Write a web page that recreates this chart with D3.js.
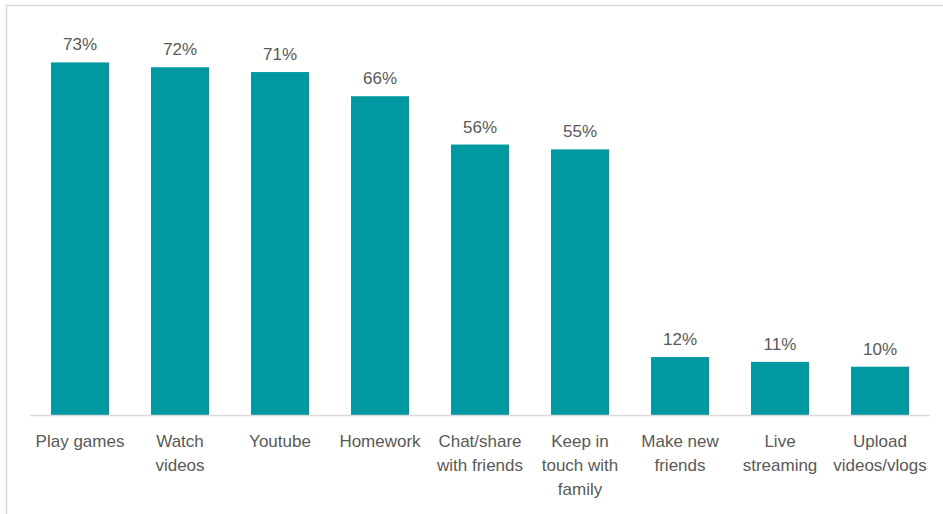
<!DOCTYPE html>
<html>
<head>
<meta charset="utf-8">
<script src="https://cdn.jsdelivr.net/npm/d3@7/dist/d3.min.js"></script>
<style>
  html, body { margin: 0; padding: 0; background: #fff; }
  svg { display: block; }
</style>
</head>
<body>
<svg id="chart" width="943" height="514"></svg>
<script>
// Activities and the share of respondents doing each one
const categories = [
  "Play games", "Watch videos", "Youtube", "Homework", "Chat/share with friends",
  "Keep in touch with family", "Make new friends", "Live streaming", "Upload videos/vlogs"
];
const labelLines = [
  ["Play games"], ["Watch", "videos"], ["Youtube"], ["Homework"],
  ["Chat/share", "with friends"], ["Keep in", "touch with", "family"],
  ["Make new", "friends"], ["Live", "streaming"], ["Upload", "videos/vlogs"]
];
const values = [73, 72, 71, 66, 56, 55, 12, 11, 10];

const svg = d3.select("#chart");
const font = "'Liberation Sans', Arial, sans-serif";

// Chart area frame
svg.append("rect")
  .attr("x", 6.5).attr("y", 5.5)
  .attr("width", 980).attr("height", 560)
  .attr("fill", "none")
  .attr("stroke", "#d9d9d9")
  .attr("stroke-width", 1.5);

const x = d3.scaleBand()
  .domain(categories)
  .range([30, 930])
  .paddingInner(0.42)
  .paddingOuter(0.21);

const y = d3.scaleLinear()
  .domain([0, 80])
  .range([415, 28.6]);

// Bars
svg.append("g")
  .selectAll("rect")
  .data(values)
  .join("rect")
  .attr("x", (d, i) => x(categories[i]))
  .attr("y", d => y(d))
  .attr("width", x.bandwidth())
  .attr("height", d => y(0) - y(d))
  .attr("fill", "#0099a1");

// Baseline
svg.append("line")
  .attr("x1", 30).attr("x2", 930)
  .attr("y1", y(0) + 0.5).attr("y2", y(0) + 0.5)
  .attr("stroke", "#d9d9d9")
  .attr("stroke-width", 1.5);

// Value labels
svg.append("g")
  .selectAll("text")
  .data(values)
  .join("text")
  .attr("x", (d, i) => x(categories[i]) + x.bandwidth() / 2)
  .attr("y", d => y(d) - 12)
  .attr("text-anchor", "middle")
  .attr("font-family", font)
  .attr("font-size", 17)
  .attr("fill", "#595959")
  .text(d => d + "%");

// Category labels
const cat = svg.append("g")
  .selectAll("text")
  .data(categories)
  .join("text")
  .attr("text-anchor", "middle")
  .attr("font-family", font)
  .attr("font-size", 17)
  .attr("fill", "#595959")
  .attr("transform", d => `translate(${x(d) + x.bandwidth() / 2},447)`);

cat.selectAll("tspan")
  .data((d, i) => labelLines[i])
  .join("tspan")
  .attr("x", 0)
  .attr("y", (d, j) => j * 24)
  .text(d => d);
</script>
</body>
</html>
